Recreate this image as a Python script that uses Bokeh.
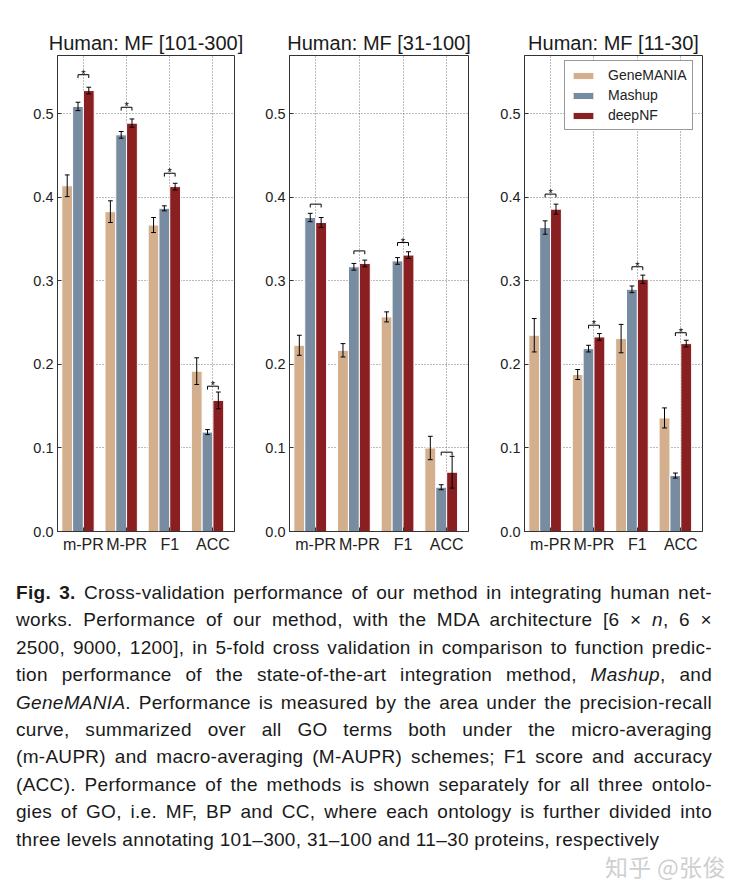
import numpy as np
from bokeh.plotting import figure
from bokeh.models import (Range1d, FixedTicker, PrintfTickFormatter, Legend,
                          LegendItem, Div)
from bokeh.layouts import row, column
from bokeh.embed import file_html
from bokeh.resources import INLINE
from bokeh.core.properties import value

# ---------------- data ----------------
metrics = ["m-PR", "M-PR", "F1", "ACC"]
methods = ["GeneMANIA", "Mashup", "deepNF"]
titles = ["Human: MF [101-300]", "Human: MF [31-100]", "Human: MF [11-30]"]
yticks = [0.0, 0.1, 0.2, 0.3, 0.4, 0.5]

# Human MF [101-300]
gm_101_300 = [0.414, 0.383, 0.367, 0.192]
gm_101_300_err = [0.013, 0.013, 0.009, 0.016]
ms_101_300 = [0.509, 0.475, 0.387, 0.119]
ms_101_300_err = [0.005, 0.004, 0.003, 0.003]
dn_101_300 = [0.528, 0.489, 0.413, 0.157]
dn_101_300_err = [0.004, 0.005, 0.004, 0.010]
bracket_101_300 = [0.547, 0.508, 0.429, 0.174]
star_101_300 = [1, 1, 1, 1]

# Human MF [31-100]
gm_31_100 = [0.223, 0.217, 0.257, 0.100]
gm_31_100_err = [0.012, 0.008, 0.006, 0.014]
ms_31_100 = [0.376, 0.317, 0.324, 0.053]
ms_31_100_err = [0.005, 0.004, 0.004, 0.003]
dn_31_100 = [0.370, 0.321, 0.331, 0.071]
dn_31_100_err = [0.006, 0.004, 0.004, 0.019]
bracket_31_100 = [0.392, 0.336, 0.346, 0.095]
star_31_100 = [0, 0, 1, 0]

# Human MF [11-30]
gm_11_30 = [0.235, 0.188, 0.231, 0.136]
gm_11_30_err = [0.020, 0.006, 0.017, 0.012]
ms_11_30 = [0.364, 0.219, 0.290, 0.067]
ms_11_30_err = [0.008, 0.004, 0.004, 0.003]
dn_11_30 = [0.386, 0.233, 0.302, 0.225]
dn_11_30_err = [0.006, 0.004, 0.005, 0.004]
bracket_11_30 = [0.404, 0.247, 0.317, 0.238]
star_11_30 = [1, 1, 1, 1]

colors = ["#D3AF8E", "#778CA1", "#8A1F22"]
offsets = [-0.375, -0.125, 0.125]
FONT = "Liberation Sans"


def make_panel(title, series, errs, brackets, stars, border_left, frame_w,
               legend=False):
    p = figure(frame_width=frame_w, frame_height=476,
               x_range=Range1d(-0.6, 3.5), y_range=Range1d(0, 0.57),
               output_backend="svg", toolbar_location=None,
               min_border_left=border_left, min_border_right=10,
               min_border_top=55, min_border_bottom=39, title=title)
    p.background_fill_color = "white"
    p.border_fill_color = "white"
    p.outline_line_color = "#333333"
    p.outline_line_width = 1

    p.title.align = "center"
    p.title.text_font = FONT
    p.title.text_font_size = "20px"
    p.title.text_font_style = "normal"
    p.title.text_color = "#1a1a1a"
    p.title.standoff = 3

    xs = np.arange(len(metrics))
    renderers = []
    for k, (vals, ev) in enumerate(zip(series, errs)):
        x = xs + offsets[k]
        v = np.array(vals)
        e = np.array(ev)
        r = p.vbar(x=x, top=v, width=0.25, fill_color=colors[k],
                   line_color="white", line_width=1)
        renderers.append(r)
        p.segment(x0=x, y0=v - e, x1=x, y1=v + e, line_color="black",
                  line_width=1)
        p.segment(x0=x - 0.055, y0=v + e, x1=x + 0.055, y1=v + e,
                  line_color="black", line_width=1)
        p.segment(x0=x - 0.055, y0=v - e, x1=x + 0.055, y1=v - e,
                  line_color="black", line_width=1)

    bx, by = [], []
    for i, b in enumerate(brackets):
        bx.append([i + offsets[1], i + offsets[1], i + offsets[2], i + offsets[2]])
        by.append([b - 0.004, b, b, b - 0.004])
    p.multi_line(xs=bx, ys=by, line_color="black", line_width=1)
    sx = [i for i, s in enumerate(stars) if s]
    sy = [brackets[i] + 0.001 for i in sx]
    p.text(x=sx, y=sy, text=["*"] * len(sx), text_align="center",
           text_baseline="alphabetic", text_font=value(FONT),
           text_font_size="11px", text_color="black")

    p.xaxis.ticker = FixedTicker(ticks=list(range(len(metrics))))
    p.xaxis.major_label_overrides = {i: m for i, m in enumerate(metrics)}
    p.yaxis.ticker = FixedTicker(ticks=yticks)
    p.yaxis.formatter = PrintfTickFormatter(format="%.1f")
    for ax in (p.xaxis[0], p.yaxis[0]):
        ax.major_tick_in = 4
        ax.major_tick_out = 0
        ax.minor_tick_line_color = None
        ax.axis_line_color = "#333333"
        ax.major_tick_line_color = "#333333"
        ax.major_label_text_font = FONT
        ax.major_label_text_color = "#222222"
        ax.major_label_standoff = 4
    p.xaxis.major_label_text_font_size = "16px"
    p.yaxis.major_label_text_font_size = "14.5px"

    p.xgrid.ticker = FixedTicker(ticks=list(range(len(metrics))))
    p.ygrid.ticker = FixedTicker(ticks=yticks)
    for g in (p.xgrid[0], p.ygrid[0]):
        g.grid_line_color = "#777777"
        g.grid_line_dash = "1 2"
        g.grid_line_width = 1

    if legend:
        items = [LegendItem(label=m, renderers=[r])
                 for m, r in zip(methods, renderers)]
        lg = Legend(items=items, location=(40, 401))
        lg.border_line_color = "#333333"
        lg.border_line_width = 1
        lg.background_fill_alpha = 1.0
        lg.label_text_font = FONT
        lg.label_text_font_size = "14px"
        lg.label_text_color = "#222222"
        lg.glyph_width = 26
        lg.glyph_height = 9
        lg.label_height = 18
        lg.spacing = 2
        lg.padding = 5
        lg.margin = 0
        lg.label_standoff = 12
        p.add_layout(lg)
    return p


p1 = make_panel(titles[0], [gm_101_300, ms_101_300, dn_101_300],
                [gm_101_300_err, ms_101_300_err, dn_101_300_err],
                bracket_101_300, star_101_300, 57, 177)
p2 = make_panel(titles[1], [gm_31_100, ms_31_100, dn_31_100],
                [gm_31_100_err, ms_31_100_err, dn_31_100_err],
                bracket_31_100, star_31_100, 45, 179)
p3 = make_panel(titles[2], [gm_11_30, ms_11_30, dn_11_30],
                [gm_11_30_err, ms_11_30_err, dn_11_30_err],
                bracket_11_30, star_11_30, 46, 178, legend=True)

caption_lines = [
    "<b>Fig. 3.</b> Cross-validation performance of our method in integrating human net-",
    "works. Performance of our method, with the MDA architecture [6 &times; <i>n</i>, 6 &times;",
    "2500, 9000, 1200], in 5-fold cross validation in comparison to function predic-",
    "tion performance of the state-of-the-art integration method, <i>Mashup</i>, and",
    "<i>GeneMANIA</i>. Performance is measured by the area under the precision-recall",
    "curve, summarized over all GO terms both under the micro-averaging",
    "(m-AUPR) and macro-averaging (M-AUPR) schemes; F1 score and accuracy",
    "(ACC). Performance of the methods is shown separately for all three ontolo-",
    "gies of GO, i.e. MF, BP and CC, where each ontology is further divided into",
    "three levels annotating 101&ndash;300, 31&ndash;100 and 11&ndash;30 proteins, respectively",
]
watermark = "知乎 @张俊"

body = ""
for k, ln in enumerate(caption_lines):
    last = k == len(caption_lines) - 1
    align = "left" if last else "justify"
    body += (f'<div style="text-align:{align};text-align-last:{align};">'
             f'{ln}</div>')
html = (
    '<div style="position:relative;width:707px;padding-left:11px;padding-top:4px;'
    "font-family:'Liberation Sans',sans-serif;letter-spacing:0.3px;"
    'font-size:19px;line-height:27.4px;color:#1a1a1a;">'
    + body +
    '<div style="position:absolute;left:600px;top:279px;'
    "font-family:'Noto Sans CJK SC',sans-serif;font-size:23px;color:#cfcfcf;"
    'line-height:24px;white-space:nowrap;">' + watermark + '</div>'
    '</div>'
)
cap = Div(text=html, width=726, height=304)

layout = column(row(p1, p2, p3), cap)
open("out.html", "w").write(file_html(layout, INLINE))
